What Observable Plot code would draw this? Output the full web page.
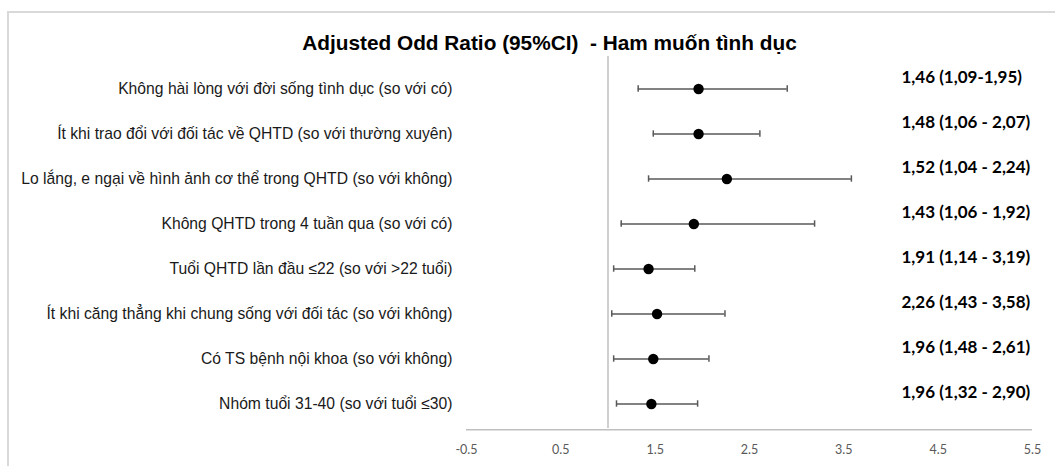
<!DOCTYPE html>
<html>
<head>
<meta charset="utf-8">
<script src="https://cdn.jsdelivr.net/npm/d3@7"></script>
<script src="https://cdn.jsdelivr.net/npm/@observablehq/plot@0.6"></script>
<style>
  html, body { margin: 0; padding: 0; background: #fff; overflow: hidden; }
  #wrap { position: relative; width: 1055px; height: 466px; }
  #border { position: absolute; left: 7px; top: 11px; width: 1100px; height: 600px;
            border: 2px solid #d9d9d9; box-sizing: border-box; }
  #chart { position: absolute; left: 0; top: 0; }
</style>
</head>
<body>
<div id="wrap"><div id="border"></div><div id="chart"></div></div>
<script>
const title = "Adjusted Odd Ratio (95%CI)  - Ham muốn tình dục";
const categories = [
  "Không hài lòng với đời sống tình dục (so với có)",
  "Ít khi trao đổi với đối tác về QHTD (so với thường xuyên)",
  "Lo lắng, e ngại về hình ảnh cơ thể trong QHTD (so với không)",
  "Không QHTD trong 4 tuần qua (so với có)",
  "Tuổi QHTD lần đầu ≤22 (so với >22 tuổi)",
  "Ít khi căng thẳng khi chung sống với đối tác (so với không)",
  "Có TS bệnh nội khoa (so với không)",
  "Nhóm tuổi 31-40 (so với tuổi ≤30)"
];
const orLabels = [
  "1,46 (1,09-1,95)",
  "1,48 (1,06 - 2,07)",
  "1,52 (1,04 - 2,24)",
  "1,43 (1,06 - 1,92)",
  "1,91 (1,14 - 3,19)",
  "2,26 (1,43 - 3,58)",
  "1,96 (1,48 - 2,61)",
  "1,96 (1,32 - 2,90)"
];
// values as drawn in the picture, row by row from top
const orValues = [1.96, 1.96, 2.26, 1.91, 1.43, 1.52, 1.48, 1.46];
const ciLow    = [1.32, 1.48, 1.43, 1.14, 1.06, 1.04, 1.06, 1.09];
const ciHigh   = [2.90, 2.61, 3.58, 3.19, 1.92, 2.24, 2.07, 1.95];
const xTicks = [-0.5, 0.5, 1.5, 2.5, 3.5, 4.5, 5.5];
const xTickLabels = ["-0.5", "0.5", "1.5", "2.5", "3.5", "4.5", "5.5"];
const refValue = 1;

const rows = categories.map((c, i) => ({
  cat: c, label: orLabels[i], or: orValues[i], lo: ciLow[i], hi: ciHigh[i]
}));

const gray = "#595959";
const chart = Plot.plot({
  width: 1055,
  height: 466,
  marginLeft: 466,
  marginRight: 23,
  marginTop: 56,
  marginBottom: 35,
  style: { background: "transparent", overflow: "visible" },
  x: { domain: [-0.5, 5.5], axis: null },
  y: { type: "band", domain: categories, range: [64.8, 427.7], padding: 0, axis: null },
  marks: [
    Plot.ruleY([categories[categories.length - 1]], { dy: 25.8, stroke: "#bfbfbf", strokeWidth: 1.5 }),
    Plot.ruleX([refValue], { stroke: "#bfbfbf", strokeWidth: 1.5, insetBottom: 3 }),
    Plot.axisX(xTicks, {
      tickSize: 0, tickPadding: 14,
      tickFormat: (d) => xTickLabels[xTicks.indexOf(d)],
      fontSize: 12.5, fontFamily: "Lato", fill: gray, color: gray
    }),
    Plot.ruleY(rows, { y: "cat", x1: "lo", x2: "hi", stroke: gray, strokeWidth: 1.5 }),
    Plot.tickX(rows, { x: "lo", y: "cat", stroke: gray, strokeWidth: 1.5, insetTop: 19.3, insetBottom: 19.3 }),
    Plot.tickX(rows, { x: "hi", y: "cat", stroke: gray, strokeWidth: 1.5, insetTop: 19.3, insetBottom: 19.3 }),
    Plot.dot(rows, { x: "or", y: "cat", r: 5.2, fill: "#000", stroke: "none" }),
    Plot.text(rows, { y: "cat", text: "cat", frameAnchor: "left", dx: -14, textAnchor: "end",
      fontSize: 15.7, fontFamily: "Liberation Sans, Arial", fill: "#1a1a1a" }),
    Plot.text(rows, { y: "cat", text: "label", frameAnchor: "right", dx: -131, dy: -11, textAnchor: "start",
      fontSize: 17, fontWeight: "bold", fontFamily: "Lato", fill: "#000" }),
    Plot.text([title], { frameAnchor: "top", dx: -200, dy: -21, text: d => d,
      fontSize: 20.8, fontWeight: "bold", fontFamily: "Liberation Sans, Arial", fill: "#000" })
  ]
});
document.getElementById("chart").appendChild(chart);
</script>
</body>
</html>
